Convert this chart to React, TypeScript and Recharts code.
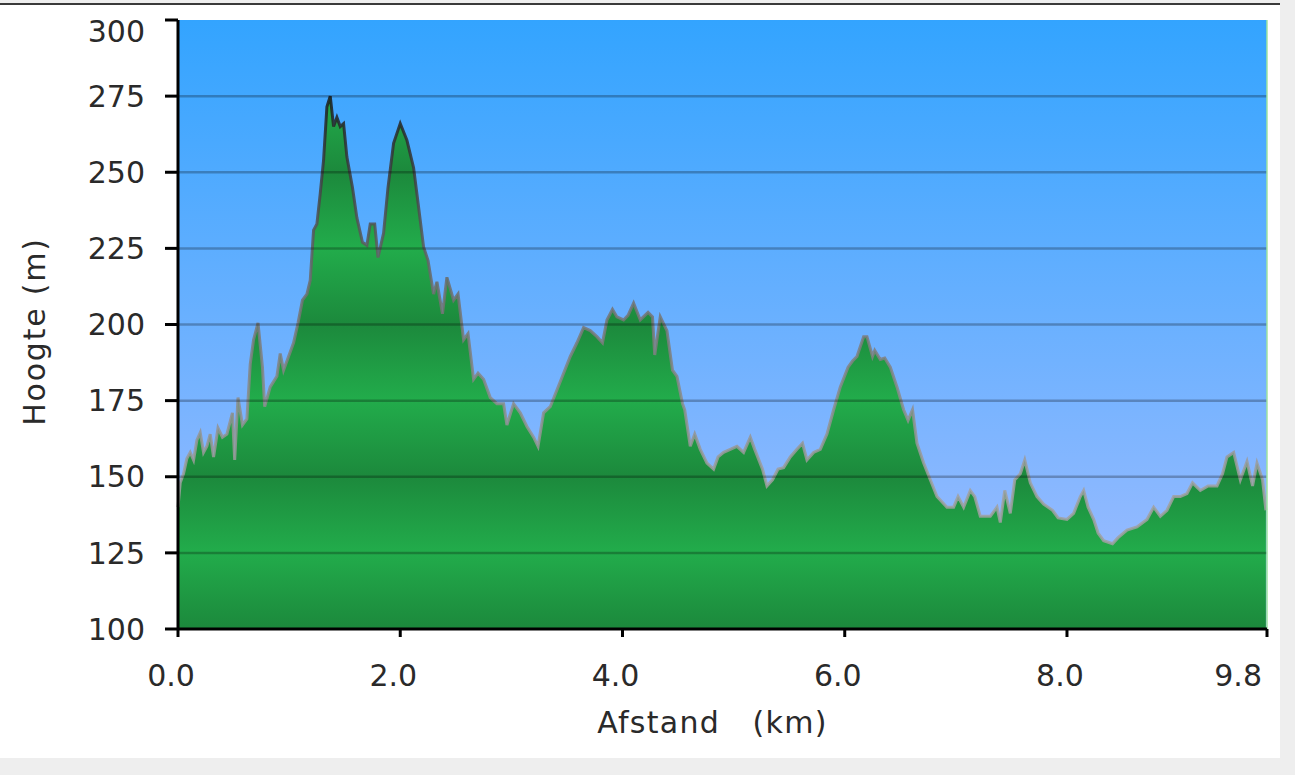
import { AreaChart, Area, XAxis, YAxis, CartesianGrid, ReferenceLine } from "recharts";

// afstand in km, hoogte in m
const distanceKm = [
  0, 0.02, 0.05, 0.08, 0.11, 0.14, 0.17, 0.2, 0.23, 0.26, 0.29, 0.32, 0.36, 0.4, 0.44, 0.49,
  0.51, 0.54, 0.58, 0.62, 0.65, 0.68, 0.72, 0.76, 0.78, 0.83, 0.89, 0.92, 0.95, 0.99, 1.04,
  1.08, 1.12, 1.16, 1.19, 1.22, 1.25, 1.28, 1.31, 1.34, 1.37, 1.4, 1.43, 1.46, 1.49, 1.52,
  1.57, 1.61, 1.66, 1.7, 1.73, 1.77, 1.8, 1.85, 1.89, 1.94, 2.0, 2.06, 2.12, 2.16, 2.21,
  2.25, 2.3, 2.33, 2.38, 2.42, 2.48, 2.52, 2.57, 2.61, 2.66, 2.7, 2.75, 2.81, 2.87, 2.93,
  2.96, 3.02, 3.08, 3.14, 3.2, 3.24, 3.29, 3.35, 3.41, 3.47, 3.53, 3.59, 3.65, 3.71, 3.77,
  3.82, 3.86, 3.91, 3.95, 4.01, 4.05, 4.1, 4.16, 4.23, 4.27, 4.29, 4.34, 4.4, 4.45, 4.49,
  4.54, 4.56, 4.61, 4.65, 4.7, 4.76, 4.82, 4.86, 4.91, 4.97, 5.03, 5.09, 5.15, 5.19, 5.26,
  5.3, 5.35, 5.4, 5.45, 5.51, 5.57, 5.62, 5.66, 5.72, 5.78, 5.84, 5.9, 5.96, 6.03, 6.07,
  6.11, 6.17, 6.2, 6.25, 6.27, 6.32, 6.36, 6.41, 6.47, 6.53, 6.57, 6.61, 6.65, 6.71, 6.77,
  6.83, 6.92, 6.98, 7.02, 7.07, 7.13, 7.17, 7.22, 7.31, 7.37, 7.4, 7.44, 7.49, 7.53, 7.58,
  7.62, 7.67, 7.73, 7.79, 7.87, 7.92, 8.0, 8.06, 8.12, 8.15, 8.19, 8.24, 8.28, 8.33, 8.41,
  8.46, 8.54, 8.63, 8.72, 8.78, 8.84, 8.9, 8.96, 9.02, 9.08, 9.13, 9.2, 9.27, 9.35, 9.4,
  9.44, 9.5, 9.56, 9.62, 9.67, 9.71, 9.76, 9.79,
];
const elevationM = [
  140, 148, 151, 156, 158, 155.5, 162, 164.5, 158, 160, 164, 156.5, 166, 163, 164, 171,
  155.5, 176, 167, 169, 187, 195, 200.5, 186, 173, 179.5, 183, 190.5, 185, 189, 194,
  200.5, 208, 210, 214.5, 231, 233, 243, 254, 271.5, 275, 265, 268, 265, 266, 255,
  245, 235, 227, 226, 233, 233, 222, 230, 245, 259.5, 266, 260.5, 251.5, 240, 225.5,
  221, 210, 214, 203.5, 215.5, 208, 210, 195, 197, 182, 184, 182, 176, 174, 174,
  167, 174, 171, 166.5, 163, 160, 171, 173, 178.5, 184, 189.5, 194, 199, 198, 196,
  194, 201.5, 205, 202.5, 201.5, 203, 207, 201.5, 204, 202.5, 190, 202.5, 198, 185, 183,
  174, 172, 160, 164, 159, 154.5, 152.5, 156.5, 158, 159, 160, 158, 163, 159, 152.5,
  147, 149, 152.5, 153, 156.5, 159, 161, 155.5, 158, 159, 164, 172, 179.5, 186, 188,
  189.5, 196, 196, 189.5, 191.5, 188.5, 189, 186, 179.5, 172, 168.5, 172, 161, 154.5, 149,
  143.5, 140, 140, 143.5, 140, 145.5, 143.5, 137, 137, 140, 135, 145.5, 138, 149, 151,
  155.5, 148, 143.5, 141, 139, 136.5, 136, 138, 143.5, 145.5, 140, 136, 131.5, 129, 128,
  130, 132.5, 133.5, 136, 140, 137, 139, 143.5, 143.5, 144.5, 148, 145.5, 147, 147, 151,
  156.5, 158, 149, 155, 147, 154.5, 149, 139,
];
const yTicks = [100, 125, 150, 175, 200, 225, 250, 275, 300];
const xTicks = [0, 2, 4, 6, 8, 9.8];
const gridLevels = [125, 150, 175, 200, 225, 250, 275];

const data = distanceKm.map((km, i) => ({ km, hoogte: elevationM[i] }));

const font = "'DejaVu Sans', Verdana, sans-serif";

function YTick(props: any) {
  const { x, y, payload } = props;
  return (
    <text x={x} y={Math.max(y, 31)} dy="0.355em" textAnchor="end" fontSize={30} fill="#2a2a2a" fontFamily={font}>
      {payload.value}
    </text>
  );
}

function XTick(props: any) {
  const { x, y, payload } = props;
  const last = payload.value === xTicks[xTicks.length - 1];
  return (
    <text
      x={last ? x - 5 : x - 7}
      y={y}
      dy="0.71em"
      textAnchor={last ? "end" : "middle"}
      fontSize={30}
      fill="#2a2a2a"
      fontFamily={font}
    >
      {payload.value.toFixed(1)}
    </text>
  );
}

export default function App() {
  return (
    <div style={{ position: "absolute", left: 0, top: 0, width: 1295, height: 775, background: "#eeeeee" }}>
      <div
        style={{
          position: "absolute", left: 0, top: 3, width: 1280, height: 755,
          background: "#ffffff", borderTop: "2px solid #3a3a3a", boxSizing: "border-box",
        }}
      />
      <div style={{ position: "absolute", left: 0, top: 0 }}>
        <AreaChart width={1295} height={775} data={data} margin={{ top: 20, right: 28, bottom: 0, left: 0 }}>
          <defs>
            <linearGradient id="sky" x1="0" y1="0" x2="0" y2="1">
              <stop offset="0%" stopColor="#33a4ff" />
              <stop offset="100%" stopColor="#a2bdff" />
            </linearGradient>
            <linearGradient id="grass" gradientUnits="userSpaceOnUse" x1="0" y1="248" x2="0" y2="324" spreadMethod="reflect">
              <stop offset="0%" stopColor="#22ac4b" />
              <stop offset="100%" stopColor="#1c893c" />
            </linearGradient>
            <linearGradient id="ridge" gradientUnits="userSpaceOnUse" x1="0" y1="95" x2="0" y2="480">
              <stop offset="0%" stopColor="#1a1a1a" />
              <stop offset="50%" stopColor="#6e6e6e" />
              <stop offset="100%" stopColor="#a0a0a0" />
            </linearGradient>
          </defs>
          <CartesianGrid horizontal={false} vertical={false} fill="url(#sky)" fillOpacity={1} />
          <XAxis
            dataKey="km"
            type="number"
            domain={[0, 9.8]}
            ticks={xTicks}
            interval={0}
            height={146}
            tickSize={8}
            tickMargin={28}
            axisLine={{ stroke: "#000", strokeWidth: 3 }}
            tickLine={{ stroke: "#000", strokeWidth: 3 }}
            tick={<XTick />}
            label={{
              value: "Afstand\u00a0\u00a0\u00a0(km)",
              position: "insideBottom",
              offset: 42,
              dx: -10,
              fontSize: 30,
              letterSpacing: 1.3,
              fill: "#2a2a2a",
              fontFamily: font,
            }}
          />
          <YAxis
            type="number"
            domain={[100, 300]}
            ticks={yTicks}
            interval={0}
            width={178}
            tickSize={13}
            tickMargin={20}
            axisLine={{ stroke: "#000", strokeWidth: 3 }}
            tickLine={{ stroke: "#000", strokeWidth: 3 }}
            tick={<YTick />}
            label={{
              value: "Hoogte (m)",
              position: "center",
              angle: -90,
              dx: -55,
              dy: 7,
              fontSize: 30,
              letterSpacing: 1.8,
              fill: "#2a2a2a",
              fontFamily: font,
            }}
          />
          <Area
            type="linear"
            dataKey="hoogte"
            stroke="url(#ridge)"
            strokeWidth={3}
            strokeOpacity={0.85}
            fill="url(#grass)"
            fillOpacity={1}
            dot={false}
            activeDot={false}
            isAnimationActive={false}
          />
          {gridLevels.map((v) => (
            <ReferenceLine key={v} y={v} stroke="#000" strokeOpacity={0.26} strokeWidth={2.5} />
          ))}
          <ReferenceLine x={9.8} stroke="#9fe39f" strokeWidth={1.5} />
        </AreaChart>
      </div>
    </div>
  );
}
